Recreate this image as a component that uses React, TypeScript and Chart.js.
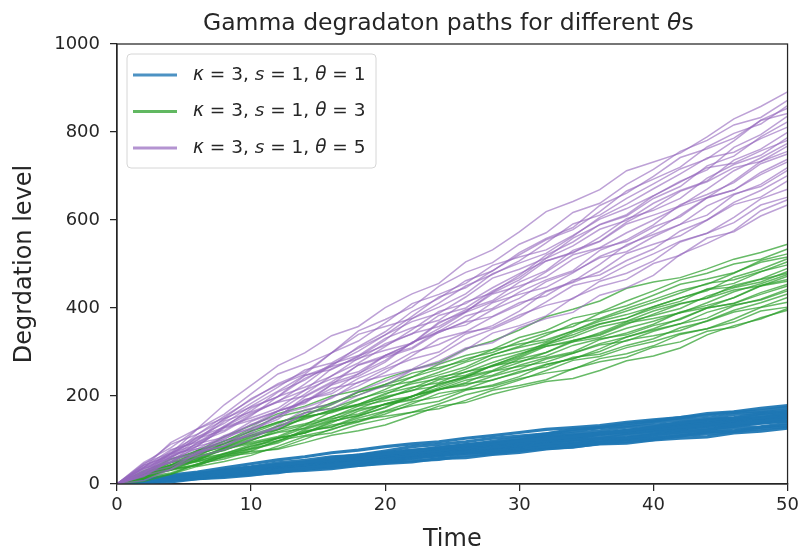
import React, { useEffect, useRef } from "react";
import { Chart, registerables } from "chart.js";
Chart.register(...registerables);

const TITLE_PARTS: [string, boolean][] = [["Gamma degradaton paths for different ", false], ["θ", true], ["s", false]];
const X_LABEL = "Time";
const Y_LABEL = "Degrdation level";
const LEGEND_ENTRIES: [string, boolean][][] = [
  [["κ", true], [" = 3, ", false], ["s", true], [" = 1, ", false], ["θ", true], [" = 1", false]],
  [["κ", true], [" = 3, ", false], ["s", true], [" = 1, ", false], ["θ", true], [" = 3", false]],
  [["κ", true], [" = 3, ", false], ["s", true], [" = 1, ", false], ["θ", true], [" = 5", false]],
];

const TIME = [0, 2, 4, 6, 8, 10, 12, 14, 16, 18, 20, 22, 24, 26, 28, 30, 32, 34, 36, 38, 40, 42, 44, 46, 48, 50];

const BLUE_PATHS = [
  [0,8,20,27,37,46,55,62,71,77,85,91,96,104,110,117,124,128,133,140,146,151,160,164,172,178],
  [0,10,17,25,30,38,44,49,59,66,75,85,90,96,104,109,114,124,128,137,143,151,156,163,166,174],
  [0,6,11,21,27,34,44,49,55,64,69,74,84,88,97,105,114,120,128,132,140,145,149,158,162,168],
  [0,10,15,21,30,37,41,50,53,61,68,76,81,88,91,98,103,107,116,121,130,140,145,151,160,165],
  [0,4,13,16,24,32,41,47,54,57,65,71,76,86,92,100,110,115,121,129,134,138,146,149,156,162],
  [0,9,15,23,27,35,40,44,53,57,64,73,77,82,90,94,99,109,113,122,128,136,141,148,151,160],
  [0,5,9,18,22,29,39,44,50,58,62,67,77,81,90,96,104,109,115,117,124,130,135,145,150,157],
  [0,8,11,15,22,27,31,40,43,51,58,67,73,81,84,92,98,103,113,119,126,135,139,144,151,154],
  [0,4,13,16,24,31,39,44,51,54,61,66,70,79,83,89,98,102,107,115,120,124,133,136,144,151],
  [0,7,11,17,19,25,30,34,44,49,56,65,69,74,82,87,91,100,103,111,118,126,131,138,141,150],
  [0,5,9,18,23,30,38,42,47,54,58,61,69,71,78,84,92,97,103,105,112,118,123,133,138,144],
  [0,7,9,12,18,22,26,35,38,45,51,59,64,71,74,81,86,90,100,105,113,122,126,131,139,143],
  [0,9,14,21,24,32,36,39,47,51,58,66,69,73,79,82,85,93,95,102,107,115,120,127,130,138],
  [0,3,11,13,19,23,30,34,40,42,49,53,56,65,69,76,85,89,94,101,105,109,118,121,129,134],
  [0,3,5,12,15,20,28,31,35,42,47,50,58,60,67,72,80,85,91,93,100,104,107,116,120,127],
  [0,8,11,15,22,27,30,38,40,47,53,60,64,70,72,77,81,84,92,96,101,110,114,119,126,130],
  [0,6,17,22,32,39,48,54,62,65,72,77,81,90,94,100,108,111,115,122,126,129,137,139,146,152],
];

const GREEN_PATHS = [
  [0,22,56,75,107,133,160,177,200,213,240,260,276,307,325,350,380,397,416,445,459,469,489,511,526,545],
  [0,28,57,72,98,120,141,155,180,209,226,243,272,292,306,333,349,377,390,416,439,464,479,500,511,534],
  [0,23,42,76,97,126,153,167,183,209,222,233,254,277,293,313,338,364,376,399,419,440,454,479,508,523],
  [0,18,48,69,84,108,124,152,165,191,215,243,261,285,299,324,343,358,388,405,429,454,466,480,504,516],
  [0,16,42,70,91,115,138,162,172,193,210,228,239,261,287,301,317,345,364,377,399,415,443,456,482,505],
  [0,26,42,64,76,100,119,134,164,181,203,232,248,266,294,310,324,348,374,393,413,434,456,464,483,498],
  [0,22,37,63,93,110,124,150,167,178,199,212,237,247,270,290,317,334,357,370,393,410,423,451,466,490],
  [0,26,39,54,79,92,105,128,153,171,194,218,243,254,276,296,313,323,344,369,383,399,427,446,459,483],
  [0,16,44,57,83,105,131,147,169,181,206,220,230,255,267,287,313,326,341,366,376,389,412,437,455,476],
  [0,21,43,51,70,85,104,116,139,166,182,198,226,245,258,284,299,326,338,363,386,409,422,441,450,472],
  [0,18,32,61,77,98,124,137,152,177,189,199,219,241,256,276,299,323,333,354,370,389,401,424,451,465],
  [0,12,36,51,60,79,93,119,130,154,175,200,215,236,247,270,287,300,328,343,363,391,406,423,450,461],
  [0,15,40,67,87,111,132,154,162,181,196,213,223,244,269,279,291,315,330,339,360,374,400,411,435,454],
  [0,24,38,58,68,90,105,116,142,155,173,200,214,230,256,267,277,297,319,334,353,376,400,410,431,450],
  [0,19,31,54,81,95,108,133,149,159,182,193,216,224,245,261,284,297,316,325,347,364,377,405,420,443],
  [0,22,31,42,63,70,81,102,125,141,159,182,206,216,237,253,272,284,307,334,350,364,390,407,418,439],
  [0,11,34,42,63,82,104,116,134,142,164,178,188,213,225,244,271,285,301,327,337,349,371,395,412,432],
  [0,24,49,60,82,101,117,126,146,170,180,191,214,228,236,256,266,288,295,315,330,355,370,391,402,424],
  [0,13,22,46,57,75,99,110,123,146,154,163,182,203,217,236,258,281,290,310,324,342,353,375,401,413],
  [0,13,38,54,64,87,98,121,129,150,166,187,198,215,222,239,252,261,285,296,314,340,353,368,393,402],
  [0,6,22,40,51,65,86,108,116,135,148,163,171,190,213,224,237,262,278,288,311,323,347,356,378,395],
  [0,30,50,76,92,121,140,155,185,202,226,252,265,280,305,318,328,348,370,385,403,422,442,448,465,479],
  [0,16,25,45,69,80,96,124,143,156,182,199,228,242,269,293,321,339,363,377,403,423,439,470,488,512],
  [0,23,33,45,67,74,79,94,111,121,134,155,177,185,204,219,233,240,258,280,291,309,339,360,375,399],
];

const PURPLE_PATHS = [
  [0,37,94,126,180,224,269,298,337,358,401,432,456,505,532,573,619,642,669,712,732,752,789,830,858,891],
  [0,44,90,113,154,191,228,254,298,348,374,402,449,481,503,545,571,617,638,681,715,756,781,816,833,872],
  [0,38,69,125,159,205,250,272,298,340,358,376,411,450,476,507,548,591,611,649,682,716,739,780,827,854],
  [0,28,75,107,129,172,199,246,268,312,346,392,422,462,484,526,558,583,633,661,699,742,762,786,826,842],
  [0,25,67,113,146,183,220,259,275,309,339,369,388,425,468,488,514,559,589,609,649,676,723,745,789,823],
  [0,42,68,104,122,158,189,213,262,289,327,376,402,432,478,502,524,563,606,636,671,705,741,754,785,811],
  [0,35,59,101,149,175,198,240,267,284,319,341,383,400,439,469,513,541,579,599,638,667,689,736,761,799],
  [0,43,63,87,127,145,166,204,246,275,312,351,392,410,446,478,507,525,561,603,622,649,695,726,747,787],
  [0,25,70,90,132,166,209,236,273,292,331,355,372,414,434,464,507,527,551,591,611,632,670,712,741,774],
  [0,33,68,80,110,134,166,187,226,271,292,319,365,396,417,459,485,531,552,595,627,665,687,719,733,768],
  [0,28,49,95,119,155,199,220,245,286,304,320,353,390,414,445,482,521,537,571,600,631,651,689,733,756],
  [0,19,57,80,93,123,147,191,210,251,281,322,347,382,399,436,464,485,531,555,589,635,658,685,728,750],
  [0,23,63,107,138,177,211,247,260,291,315,342,358,392,432,450,471,511,536,551,584,607,650,668,708,738],
  [0,38,60,92,106,142,166,183,225,245,277,322,344,370,412,431,447,480,517,541,573,611,651,668,703,732],
  [0,30,49,86,129,150,172,213,239,255,292,310,348,361,396,422,460,482,514,528,562,590,611,657,681,719],
  [0,36,49,66,99,109,126,160,198,223,254,291,330,346,380,407,439,460,499,544,567,590,632,659,676,713],
  [0,18,56,69,104,128,165,186,217,230,261,284,300,341,360,393,437,458,483,524,545,564,600,640,667,701],
  [0,38,78,95,130,161,186,200,232,270,288,307,345,368,381,412,428,464,475,508,534,575,600,635,652,689],
  [0,20,33,71,87,117,157,174,195,232,246,261,293,329,352,379,414,451,465,497,523,552,570,606,648,670],
  [0,21,61,86,101,136,154,192,205,240,265,299,317,345,355,384,406,421,461,479,507,550,570,594,634,652],
  [0,8,33,62,78,101,134,169,181,211,234,259,273,305,343,360,382,423,449,465,501,520,559,573,609,634],
  [0,49,82,125,150,194,225,249,298,325,366,410,431,456,497,516,532,565,602,626,655,686,719,729,757,781],
  [0,25,39,71,109,125,152,198,229,250,292,320,368,391,436,474,520,550,590,612,655,688,714,765,794,836],
  [0,47,71,99,143,164,187,227,271,302,339,381,425,446,485,521,555,578,619,666,693,720,766,797,818,860],
  [0,17,53,74,85,114,128,162,171,202,223,259,279,309,321,355,376,390,429,446,474,522,547,576,621,646],
];

const FONT = '"DejaVu Sans", sans-serif';
const INK = "#262626";
const LINE_COLORS = ["rgba(31,119,180,0.95)", "rgba(44,160,44,0.72)", "rgba(148,103,189,0.62)"];
const LEGEND_COLORS = ["rgba(31,119,180,0.8)", "rgba(44,160,44,0.75)", "rgba(148,103,189,0.7)"];

function drawRich(ctx: CanvasRenderingContext2D, parts: [string, boolean][], x: number, y: number, size: number, align: "left" | "center") {
  const widths = parts.map(([t, it]) => {
    ctx.font = `${it ? "italic " : ""}${size}px ${FONT}`;
    return ctx.measureText(t).width;
  });
  const total = widths.reduce((a, b) => a + b, 0);
  let cx = align === "center" ? x - total / 2 : x;
  ctx.textAlign = "left";
  parts.forEach(([t, it], i) => {
    ctx.font = `${it ? "italic " : ""}${size}px ${FONT}`;
    ctx.fillText(t, cx, y);
    cx += widths[i];
  });
}

const decorPlugin = {
  id: "decor",
  afterDraw(chart: any) {
    const { ctx, chartArea: a } = chart;
    ctx.save();
    ctx.strokeStyle = INK;
    ctx.lineWidth = 1.25;
    ctx.strokeRect(a.left, a.top, a.right - a.left, a.bottom - a.top);
    ctx.fillStyle = INK;
    ctx.textBaseline = "alphabetic";
    drawRich(ctx, TITLE_PARTS, (a.left + a.right) / 2 - 4, 30, 23.5, "center");
    ctx.font = `24px ${FONT}`;
    ctx.textAlign = "center";
    ctx.fillText(X_LABEL, (a.left + a.right) / 2, 546);
    ctx.save();
    ctx.translate(25, (a.top + a.bottom) / 2);
    ctx.rotate(-Math.PI / 2);
    ctx.textAlign = "center";
    ctx.textBaseline = "middle";
    ctx.fillText(Y_LABEL, 0, 0);
    ctx.restore();
    const bx = a.left + 10, by = a.top + 10, bw = 249, bh = 114;
    ctx.fillStyle = "rgba(255,255,255,0.85)";
    ctx.strokeStyle = "#d6d6d6";
    ctx.lineWidth = 1;
    ctx.beginPath();
    const r = 4;
    ctx.moveTo(bx + r, by);
    ctx.arcTo(bx + bw, by, bx + bw, by + bh, r);
    ctx.arcTo(bx + bw, by + bh, bx, by + bh, r);
    ctx.arcTo(bx, by + bh, bx, by, r);
    ctx.arcTo(bx, by, bx + bw, by, r);
    ctx.closePath();
    ctx.fill();
    ctx.stroke();
    LEGEND_ENTRIES.forEach((parts, i) => {
      const yy = by + 21 + i * 36.5;
      ctx.strokeStyle = LEGEND_COLORS[i];
      ctx.lineWidth = 3;
      ctx.beginPath();
      ctx.moveTo(bx + 6, yy);
      ctx.lineTo(bx + 50, yy);
      ctx.stroke();
      ctx.fillStyle = INK;
      ctx.textBaseline = "middle";
      drawRich(ctx, parts, bx + 66, yy, 18.5, "left");
    });
    ctx.restore();
  },
};

export default function App() {
  const ref = useRef<HTMLCanvasElement>(null);
  useEffect(() => {
    const mk = (paths: number[][], color: string, width: number, order: number) =>
      paths.map((p) => ({
        data: p.map((y, i) => ({ x: TIME[i], y })),
        borderColor: color,
        borderWidth: width,
        pointRadius: 0,
        fill: false,
        tension: 0,
        order,
      }));
    const datasets = [
      ...mk(BLUE_PATHS, LINE_COLORS[0], 3.2, 3),
      ...mk(GREEN_PATHS, LINE_COLORS[1], 1.5, 2),
      ...mk(PURPLE_PATHS, LINE_COLORS[2], 1.5, 1),
    ];
    const chart = new Chart(ref.current!, {
      type: "line",
      data: { datasets },
      options: {
        animation: false,
        responsive: false,
        layout: { padding: { left: 0, right: 13, top: 44, bottom: 0 } },
        plugins: { legend: { display: false }, tooltip: { enabled: false }, title: { display: false } },
        scales: {
          x: {
            type: "linear",
            min: 0,
            max: 50,
            afterFit: (s: any) => { s.height = 65; },
            ticks: { stepSize: 10, color: INK, font: { family: FONT, size: 18 }, padding: 4, maxRotation: 0, callback: (v: any) => String(v) },
            grid: { drawOnChartArea: false, tickLength: 7, color: INK, lineWidth: 1.25 },
            border: { color: INK, width: 1.25 },
          },
          y: {
            type: "linear",
            min: 0,
            max: 1000,
            afterFit: (s: any) => { s.width = 117; },
            ticks: { stepSize: 200, color: INK, font: { family: FONT, size: 18 }, padding: 10, callback: (v: any) => String(v) },
            grid: { drawOnChartArea: false, tickLength: 7, color: INK, lineWidth: 1.25 },
            border: { color: INK, width: 1.25 },
          },
        },
      },
      plugins: [decorPlugin],
    });
    return () => chart.destroy();
  }, []);
  return (
    <div style={{ position: "fixed", left: 0, top: 0, width: 803, height: 549, background: "#fff" }}>
      <canvas ref={ref} width={803} height={549} style={{ width: 803, height: 549 }} />
    </div>
  );
}
